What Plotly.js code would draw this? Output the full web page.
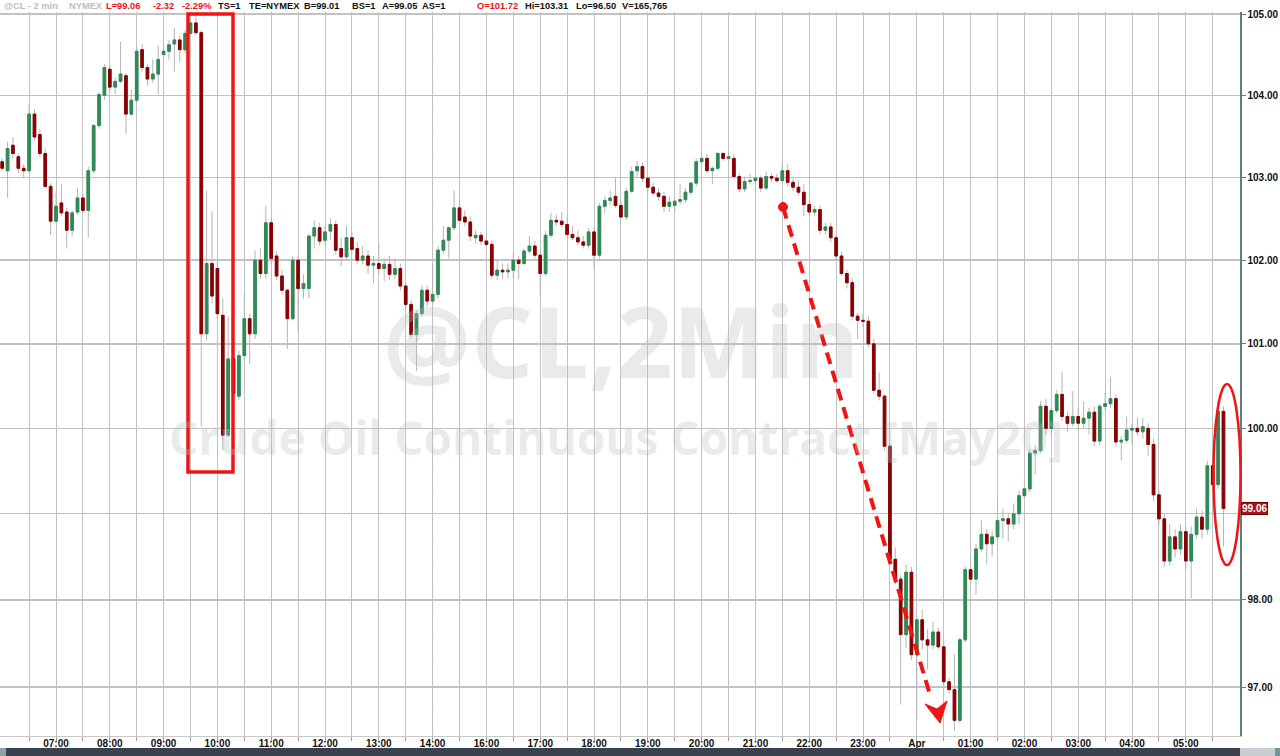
<!DOCTYPE html>
<html><head><meta charset="utf-8">
<script src="https://cdn.plot.ly/plotly-3.0.1.min.js"></script>
<style>html,body{margin:0;padding:0;background:#fff;overflow:hidden}#chart{width:1280px;height:756px}</style>
</head><body><div id="chart"></div>
<script>
// ---- DATA: @CL 2-min chart (grouped into 6-minute bars from 06:00 slot) ----
const barOpen = [
103.19,103.08,103.39,103.25,103.11,103.08,103.77,103.52,103.29,102.89,
102.47,102.69,102.58,102.36,102.58,102.75,102.60,103.08,103.63,104.00,
104.32,104.10,104.17,104.24,103.77,103.94,104.56,104.34,104.20,104.26,
104.50,104.54,104.63,104.68,104.56,104.76,104.89,104.77,101.12,101.96,
101.90,101.34,99.92,100.82,100.38,100.86,101.30,101.12,102.00,101.84,
102.45,102.05,101.81,101.64,101.30,102.00,101.66,101.66,102.29,102.39,
102.24,102.35,102.43,102.14,102.04,102.27,102.14,102.00,102.05,101.94,
101.96,101.90,101.95,101.83,101.90,101.69,101.47,101.11,101.36,101.64,
101.51,101.59,102.12,102.24,102.39,102.63,102.52,102.46,102.27,102.30,
102.23,102.19,101.82,101.88,101.86,101.88,102.00,101.96,102.11,102.17,
102.06,101.84,102.30,102.48,102.47,102.43,102.31,102.27,102.22,102.18,
102.34,102.06,102.65,102.72,102.77,102.66,102.52,102.83,103.08,103.13,
102.99,102.88,102.81,102.77,102.65,102.66,102.71,102.73,102.82,102.93,
103.19,103.23,103.08,103.11,103.29,103.23,103.23,103.01,102.86,102.95,
102.96,102.99,102.87,103.01,102.99,102.96,103.08,102.94,102.88,102.82,
102.67,102.58,102.61,102.36,102.40,102.27,102.05,101.84,101.73,101.33,
101.28,101.27,101.00,100.45,100.38,99.79,98.47,98.24,97.60,98.32,
97.37,97.77,97.54,97.48,97.63,97.46,97.06,96.97,96.62,97.54,
98.35,98.24,98.59,98.76,98.65,98.73,98.92,98.94,98.88,99.00,
99.21,99.29,99.71,99.74,100.26,100.00,100.21,100.40,100.14,100.06,
100.14,100.06,100.12,100.19,99.85,100.26,100.29,100.35,99.84,99.86,
99.98,100.00,99.96,100.00,99.81,99.22,98.94,98.45,98.73,98.59,
98.79,98.45,98.76,98.96,98.82,99.56,99.34,100.20];
const barHigh = [
103.23,103.43,103.49,103.29,103.16,103.89,103.83,103.59,103.35,102.93,
102.81,102.92,102.63,102.60,102.87,102.80,103.13,103.65,104.04,104.38,
104.37,104.22,104.66,104.27,104.07,104.60,104.63,104.38,104.44,104.61,
104.63,104.68,104.83,104.73,104.80,104.93,104.99,104.80,102.84,102.59,
102.00,101.54,101.33,100.88,100.92,101.60,101.36,102.12,102.14,102.66,
102.51,102.11,101.88,101.66,102.05,102.05,101.83,102.31,102.48,102.45,
102.41,102.51,102.48,102.27,102.41,102.34,102.22,102.17,102.12,102.05,
102.22,102.02,102.05,102.02,101.96,101.72,101.52,101.40,101.70,101.69,
101.96,102.17,102.41,102.29,102.84,102.75,102.60,102.53,102.36,102.34,
102.29,102.24,102.00,101.96,101.96,102.08,102.05,102.14,102.29,102.23,
102.12,102.35,102.57,102.55,102.58,102.51,102.41,102.36,102.29,102.39,
102.39,102.69,102.77,102.84,102.99,102.71,102.87,103.13,103.20,103.18,
103.04,102.93,102.87,102.82,102.77,102.77,102.92,102.87,102.94,103.23,
103.29,103.28,103.13,103.31,103.31,103.30,103.29,103.05,103.01,103.04,
103.04,103.02,103.07,103.05,103.04,103.17,103.16,102.99,102.96,102.92,
102.72,102.65,102.66,102.45,102.45,102.31,102.10,101.88,101.78,101.37,
101.36,101.33,101.06,100.66,100.40,99.82,98.61,98.29,98.41,98.38,
97.83,97.89,97.66,97.75,97.68,97.54,97.10,97.37,97.57,98.39,
98.52,98.65,98.92,98.82,98.80,99.18,99.06,99.01,99.12,99.27,
99.41,99.76,99.80,100.32,100.35,100.26,100.45,100.67,100.20,100.44,
100.24,100.32,100.24,100.26,100.29,100.42,100.61,100.40,99.91,100.14,
100.06,100.12,100.12,100.06,99.88,99.27,99.00,98.88,98.82,98.88,
98.85,98.85,99.06,99.04,99.62,99.67,100.32,100.26];
const barLow = [
103.08,102.75,103.23,103.05,102.99,103.05,103.45,103.25,102.87,102.30,
102.45,102.53,102.14,102.29,102.55,102.57,102.27,103.05,103.59,103.94,
104.05,104.01,104.15,103.53,103.75,103.90,104.29,104.12,104.15,104.01,
104.46,104.44,104.29,104.41,104.52,104.73,104.74,100.02,101.04,101.48,
101.30,99.74,99.90,100.35,100.33,100.82,100.76,101.06,101.78,101.78,
101.96,101.76,101.59,100.94,101.28,101.14,101.54,101.54,102.14,102.17,
102.19,102.24,102.07,101.93,102.00,102.08,101.95,101.95,101.84,101.72,
101.83,101.75,101.76,101.78,101.64,101.42,101.06,100.68,101.33,101.45,
101.46,101.54,102.08,102.02,102.36,102.43,102.41,102.23,102.20,102.18,
102.16,101.78,101.76,101.78,101.78,101.78,101.77,101.94,102.08,102.02,
101.58,101.81,102.27,102.41,102.39,102.27,102.24,102.18,102.14,102.14,
101.90,102.02,102.57,102.67,102.63,102.48,102.48,102.81,102.99,102.94,
102.83,102.78,102.72,102.58,102.58,102.58,102.67,102.69,102.78,102.89,
103.14,103.06,102.92,103.08,103.20,103.16,102.99,102.82,102.82,102.92,
102.92,102.82,102.84,102.94,102.93,102.93,102.89,102.83,102.78,102.53,
102.53,102.53,102.31,102.31,102.22,102.00,101.81,101.66,101.28,101.06,
101.20,100.96,100.41,100.33,99.74,98.41,98.18,96.80,97.45,97.31,
96.62,97.43,97.20,97.43,97.43,97.01,96.93,96.50,96.59,97.51,
98.18,98.06,98.56,98.41,98.51,98.68,98.71,98.68,98.82,98.88,
99.18,99.25,99.46,99.71,99.92,99.92,100.18,100.09,99.96,100.02,
99.98,100.00,99.93,99.79,99.80,100.21,100.24,99.79,99.62,99.82,
99.82,99.91,99.88,99.67,99.15,98.87,98.38,98.40,98.49,98.52,
98.35,98.02,98.71,98.71,98.76,99.27,99.29,98.62];
const barClose = [
103.11,103.35,103.29,103.11,103.08,103.77,103.49,103.29,102.89,102.47,
102.65,102.57,102.36,102.57,102.75,102.60,103.08,103.63,104.01,104.34,
104.10,104.17,104.26,103.77,103.94,104.54,104.34,104.20,104.26,104.44,
104.54,104.62,104.68,104.56,104.76,104.89,104.77,101.12,101.96,101.57,
101.36,99.92,100.82,100.41,100.86,101.30,101.12,102.00,101.84,102.45,
102.02,101.81,101.64,101.30,102.00,101.66,101.72,102.29,102.39,102.23,
102.34,102.43,102.12,102.04,102.27,102.13,102.00,102.05,101.94,101.96,
101.90,101.95,101.83,101.90,101.69,101.47,101.11,101.36,101.64,101.51,
101.59,102.12,102.24,102.39,102.63,102.48,102.46,102.29,102.30,102.23,
102.19,101.82,101.88,101.86,101.88,102.00,101.96,102.11,102.17,102.06,
101.84,102.30,102.48,102.46,102.43,102.31,102.27,102.22,102.18,102.34,
102.06,102.65,102.72,102.75,102.66,102.52,102.83,103.07,103.13,102.99,
102.88,102.81,102.77,102.65,102.70,102.71,102.73,102.82,102.93,103.19,
103.23,103.08,103.11,103.29,103.23,103.25,103.01,102.86,102.95,102.96,
102.99,102.87,103.01,102.99,102.96,103.08,102.94,102.88,102.82,102.67,
102.58,102.61,102.36,102.40,102.27,102.05,101.84,101.73,101.33,101.28,
101.27,101.00,100.45,100.38,99.79,98.47,98.24,97.60,98.32,97.37,
97.77,97.54,97.48,97.63,97.46,97.06,96.97,96.62,97.54,98.35,
98.24,98.59,98.76,98.65,98.73,98.92,98.94,98.88,99.00,99.21,
99.29,99.71,99.74,100.26,100.00,100.21,100.40,100.14,100.06,100.14,
100.06,100.12,100.19,99.85,100.26,100.29,100.35,99.84,99.86,99.98,
100.00,99.96,100.02,99.81,99.22,98.94,98.45,98.73,98.59,98.79,
98.45,98.76,98.96,98.82,99.56,99.34,100.20,99.06];

// hour slots on the session axis (15:00 is not shown: session break)
const hourLabels = ['07:00','08:00','09:00','10:00','11:00','12:00','13:00','14:00','16:00','17:00','18:00',
  '19:00','20:00','21:00','22:00','23:00','Apr','01:00','02:00','03:00','04:00','05:00'];
const priceTicks = [97, 98, 99, 100, 101, 102, 103, 104, 105];
const sessionBreakSlot = 7;           // dashed line at 14:00 slot
const headerItems = [
  {t:'@CL - 2 min', c:'#bdbdbd'}, {t:'NYMEX', c:'#bdbdbd'},
  {t:'L=99.06', c:'#e8141c'}, {t:'-2.32', c:'#e8141c'}, {t:'-2.29%', c:'#e8141c'},
  {t:'TS=1', c:'#111'}, {t:'TE=NYMEX', c:'#111'}, {t:'B=99.01', c:'#111'}, {t:'BS=1', c:'#111'},
  {t:'A=99.05', c:'#111'}, {t:'AS=1', c:'#111'}, {t:'O=101.72', c:'#e8141c'},
  {t:'Hi=103.31', c:'#111'}, {t:'Lo=96.50', c:'#111'}, {t:'V=165,765', c:'#111'}
];
const watermark1 = '@CL,2Min';
const watermark2 = 'Crude Oil Continuous Contract [May20]';

// ---- build ----
const firstBarSlot = -1;    // 06:00 (slot units: hours relative to 07:00)
const barStep = 0.1;        // 6-minute bars
const xs = barClose.map((_, i) => +(firstBarSlot + i * barStep).toFixed(3));
const bodyHigh = barOpen.map((o, i) => Math.max(o, barClose[i]));
const bodyLow = barOpen.map((o, i) => Math.min(o, barClose[i]));

const GREEN = '#2e8b57', RED = '#8b0000', WICK = '#b5b5b5';
const wicks = {
  type: 'candlestick', x: xs, open: barOpen, high: barHigh, low: barLow, close: barClose,
  increasing: {line: {color: WICK, width: 1}, fillcolor: WICK},
  decreasing: {line: {color: WICK, width: 1}, fillcolor: WICK},
  whiskerwidth: 0, hoverinfo: 'skip', showlegend: false
};
const bodies = {
  type: 'candlestick', x: xs, open: barOpen, high: bodyHigh, low: bodyLow, close: barClose,
  increasing: {line: {color: GREEN, width: 1}, fillcolor: GREEN},
  decreasing: {line: {color: RED, width: 1}, fillcolor: RED},
  whiskerwidth: 0, showlegend: false
};

const tickvals = [], ticktext = [];
for (let k = -1; k <= 43; k++) {
  const v = k / 2;
  tickvals.push(v);
  ticktext.push(Number.isInteger(v) && hourLabels[v] !== undefined ? hourLabels[v] : '');
}

// plot area: x 0..1240 px, y 12..736 px
const PW = 1240, PT = 12, PB = 736;
const X = px => px / PW;
const Y = py => (PB - py) / (PB - PT);

const headerX = [2, 67, 104, 151, 180, 216, 247, 302, 350, 380, 420, 475, 523, 574, 620];
const annotations = headerItems.map((h, i) => ({
  xref: 'paper', yref: 'paper', x: X(headerX[i]), y: Y(6), xanchor: 'left', yanchor: 'middle',
  text: h.t, showarrow: false, font: {family: 'Arial, Liberation Sans', size: 9.3, color: h.c, weight: 700}
}));
annotations.push({xref:'paper', yref:'paper', x: X(621), y: Y(340), text: watermark1, showarrow:false,
  xanchor:'center', yanchor:'middle', font:{family:'Open Sans, Arial', size:98, weight:700, color:'rgba(185,190,196,0.32)'}});
annotations.push({xref:'paper', yref:'paper', x: X(616), y: Y(437), text: watermark2, showarrow:false,
  xanchor:'center', yanchor:'middle', font:{family:'Open Sans, Arial', size:46, weight:700, color:'rgba(185,190,196,0.32)'}});
const last = barClose[barClose.length - 1];
annotations.push({xref:'paper', yref:'y', x: X(1241), y: Math.log10(last), xanchor:'left', yanchor:'middle',
  text: last.toFixed(2), showarrow:false, bgcolor:'#a8141c', bordercolor:'#6b0000', borderwidth:1, borderpad:0,
  font:{family:'Arial, Liberation Sans', size:10, color:'#fff', weight:700}});

const RED_MARK = '#f01414';
const shapes = [
  {type:'line', xref:'x', yref:'paper', x0: sessionBreakSlot, x1: sessionBreakSlot, y0:0, y1:1, layer:'below', line:{color:'#fff', width:2}},
  {type:'line', xref:'x', yref:'paper', x0: sessionBreakSlot, x1: sessionBreakSlot, y0:0, y1:1, layer:'below', line:{color:'#bcbcbc', width:1, dash:'3px,3px'}},
  {type:'rect', xref:'paper', yref:'paper', x0:X(188), x1:X(233), y0:Y(472), y1:Y(14), line:{color:RED_MARK, width:3.5}},
  {type:'circle', xref:'paper', yref:'paper', x0:X(1213.5), x1:X(1240.5), y0:Y(565), y1:Y(384), line:{color:RED_MARK, width:2.5}},
  {type:'line', xref:'paper', yref:'paper', x0:X(783), y0:Y(207), x1:X(931), y1:Y(698), line:{color:RED_MARK, width:4, dash:'12px,7px'}},
  {type:'circle', xref:'paper', yref:'paper', x0:X(778.5), x1:X(787.5), y0:Y(211.5), y1:Y(202.5), fillcolor:RED_MARK, line:{color:RED_MARK, width:1}},
  {type:'path', xref:'paper', yref:'paper', fillcolor:RED_MARK, line:{color:RED_MARK, width:1},
    path:`M ${X(940)},${Y(723)} L ${X(947)},${Y(701)} L ${X(937)},${Y(709)} L ${X(925)},${Y(704)} Z`},
  {type:'rect', xref:'paper', yref:'paper', x0:0, x1:X(6), y0:Y(756), y1:Y(748), fillcolor:'#8aa3a3', line:{width:0}},
  {type:'rect', xref:'paper', yref:'paper', x0:X(6), x1:X(1240), y0:Y(756), y1:Y(748), fillcolor:'#39424e', line:{width:0}},
  {type:'rect', xref:'paper', yref:'paper', x0:X(1240), x1:X(1275), y0:Y(756), y1:Y(748), fillcolor:'#c9ccd0', line:{width:0}},
  {type:'rect', xref:'paper', yref:'paper', x0:X(1275), x1:X(1280), y0:Y(756), y1:Y(748), fillcolor:'#6e9898', line:{width:0}}
];

const tickFont = {family:'Arial, Liberation Sans', size:10, color:'#111', weight:700};
const layout = {
  width: 1280, height: 756,
  margin: {l:0, r:40, t:PT, b:756 - PB, pad:0},
  paper_bgcolor:'#fff', plot_bgcolor:'#fff', showlegend:false,
  xaxis: {
    range: [-1.0409, 22.007], tickmode:'array', tickvals, ticktext, tickangle:0,
    showgrid:true, gridcolor:'#c2c2c2', gridwidth:1, zeroline:false,
    ticks:'outside', ticklen:4, tickcolor:'#a0a0a0', tickfont:tickFont, ticklabelstandoff:-6,
    showline:true, linecolor:'#c8c8c8', linewidth:1,
    rangeslider:{visible:false}, fixedrange:true, automargin:false
  },
  yaxis: {
    type:'log', side:'right', range:[Math.log10(96.442), Math.log10(105.025)],
    tickmode:'array', tickvals: priceTicks, ticktext: priceTicks.map(v => v === 99 ? '' : v.toFixed(2)),
    showgrid:true, gridcolor:'#c2c2c2', gridwidth:1.5, zeroline:false,
    ticks:'outside', ticklen:4, tickcolor:'#5e7e7e', tickfont:tickFont,
    showline:true, linecolor:'#5e7e7e', linewidth:1.5, fixedrange:true, automargin:false
  },
  annotations, shapes
};
Plotly.newPlot('chart', [wicks, bodies], layout, {displayModeBar:false, staticPlot:true});
</script></body></html>
